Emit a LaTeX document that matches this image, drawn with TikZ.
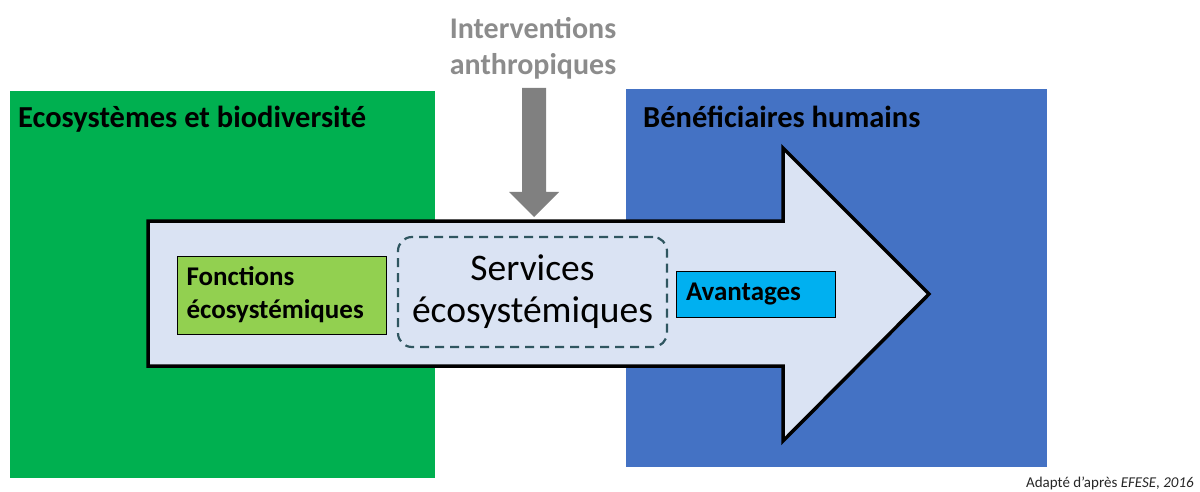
\documentclass[tikz,border=0pt]{standalone}
\usepackage{fontspec}
\setmainfont{Carlito}
\definecolor{ecogreen}{HTML}{00B050}
\definecolor{benefblue}{HTML}{4472C4}
\definecolor{flowfill}{HTML}{DAE3F3}
\definecolor{fonctgreen}{HTML}{92D050}
\definecolor{avantblue}{HTML}{00B0F0}
\definecolor{dashteal}{HTML}{2F5660}
\definecolor{arrowgray}{HTML}{808080}
\definecolor{textgray}{HTML}{8C8C8C}
\definecolor{creditgray}{HTML}{262626}

\begin{document}
\begin{tikzpicture}[x=1pt,y=-1pt,
  title/.style={font=\bfseries\fontsize{30.5}{34}\selectfont,anchor=base west,inner sep=0pt},
  smallbox/.style={draw=black,line width=0.8pt,inner sep=0pt,align=left,font=\bfseries\fontsize{27}{33}\selectfont}]
  \useasboundingbox (0,0) rectangle (1200,492);
  % les deux domaines
  \fill[ecogreen] (10,91) rectangle (435,478);
  \fill[benefblue] (626,89) rectangle (1047,467);
  \node[title] (eco) at (18,128) {Ecosystèmes et biodiversité};
  \node[title] (benef) at (643,128) {Bénéficiaires humains};
  % grande fleche
  \draw[line width=3.5pt,fill=flowfill,line join=miter] (148,221) -- (783,221) -- (783,148) -- (929,294) -- (783,441) -- (783,366) -- (148,366) -- cycle;
  \node[smallbox,fill=fonctgreen,minimum width=209pt,minimum height=78pt,text width=190pt] (fonct) at (281.5,295) {Fonctions\\écosystémiques};
  \node[draw=dashteal,line width=2.2pt,dash pattern=on 9pt off 6pt,rounded corners=14pt,minimum width=269pt,minimum height=110pt,align=center,font=\fontsize{37.5}{42}\selectfont] (serv) at (532.5,292) {Services\\écosystémiques};
  \node[smallbox,fill=avantblue,minimum width=159pt,minimum height=46pt,text width=140pt] (avant) at (756,294) {Avantages};
  % interventions
  \node[font=\bfseries\fontsize{30}{36}\selectfont,text=textgray,align=center] (interv) at (533,48) {Interventions\\anthropiques};
  \fill[arrowgray] (522,88) -- (546,88) -- (546,192) -- (559,192) -- (534,217) -- (509,192) -- (522,192) -- cycle;
  \node[anchor=base east,inner sep=0pt,text=creditgray,font=\fontsize{15}{18}\selectfont] (credit) at (1194,487) {Adapté d’après \textit{EFESE, 2016}};
\end{tikzpicture}
\end{document}
